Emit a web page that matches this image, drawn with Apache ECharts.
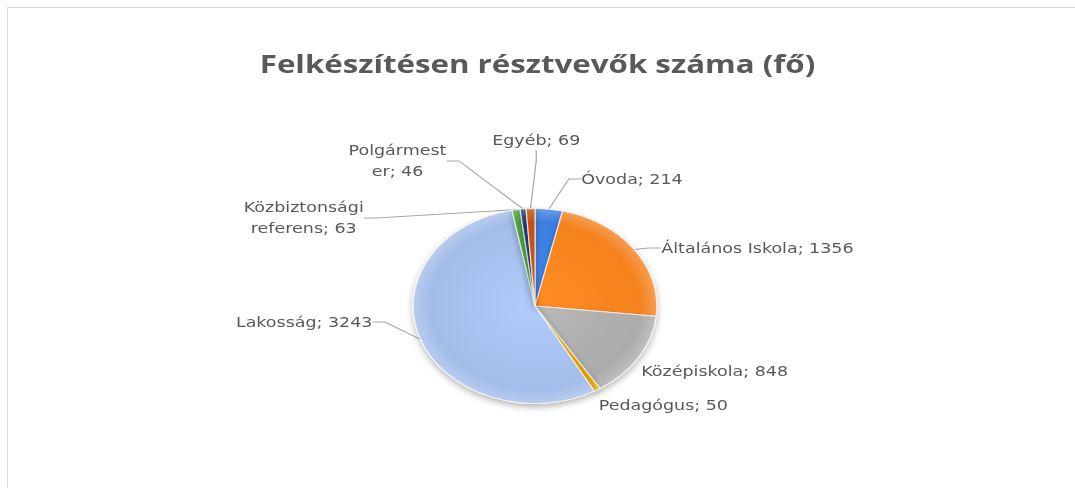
<!DOCTYPE html>
<html>
<head>
<meta charset="utf-8">
<script src="https://cdn.jsdelivr.net/npm/echarts@6/dist/echarts.min.js"></script>
<style>
    html, body { margin: 0; padding: 0; background: #fff; overflow: hidden; }
    .frame {
        position: absolute;
        left: 7px;
        top: 7px;
        right: 0;
        bottom: 0;
        border-top: 1px solid #d9d9d9;
        border-left: 1px solid #d9d9d9;
    }
    /* az eredeti kép vízszintesen nyújtott, ezért a diagramot is széthúzzuk */
    #pieChart {
        position: absolute;
        left: 0;
        top: 0;
        width: 860px;
        height: 488px;
        transform: scaleX(1.25);
        transform-origin: 0 0;
    }
</style>
</head>
<body>
<div class="frame"></div>
<div id="pieChart"></div>
<script>
// adatok
var categories = ['Óvoda', 'Általános Iskola', 'Középiskola', 'Pedagógus', 'Lakosság', 'Közbiztonsági referens', 'Polgármester', 'Egyéb']
var labelNames = ['Óvoda', 'Általános Iskola', 'Középiskola', 'Pedagógus', 'Lakosság', 'Közbiztonsági\nreferens', 'Polgármest\ner', 'Egyéb']
var values = [214, 1356, 848, 50, 3243, 63, 46, 69]
var colors = ['#3d7fe0', '#f5821f', '#ababab', '#e6a400', '#a3bdea', '#4ea83a', '#1f3f80', '#c4500e']

// címkék helye (x, y, igazítás) - nyújtás előtti koordináták
var labelPos = [
    [465, 179, 'left'],
    [529, 248, 'left'],
    [513, 371, 'left'],
    [479, 405, 'left'],
    [298, 322, 'right'],
    [243, 218, 'center'],
    [318, 161, 'center'],
    [429, 140, 'center']
]
var showLine = [true, true, false, false, true, true, true, true]

var chart = echarts.init(document.getElementById('pieChart'), null, { renderer: 'svg' })

var seriesData = categories.map(function (name, i) {
    return {
        name: name,
        value: values[i],
        labelLine: { show: showLine[i] },
        itemStyle: {
            color: {
                type: 'radial', x: 428, y: 306, r: 99, global: true,
                colorStops: [
                    { offset: 0, color: echarts.color.lift(colors[i], -0.08) },
                    { offset: 0.85, color: colors[i] },
                    { offset: 1, color: echarts.color.lift(colors[i], 0.25) }
                ]
            }
        }
    }
})

chart.setOption({
    animation: false,
    title: {
        text: 'Felkészítésen résztvevők száma (fő)',
        left: 'center',
        top: 46,
        textStyle: {
            fontFamily: 'Open Sans',
            fontSize: 25,
            fontWeight: 'bold',
            color: '#595959'
        }
    },
    series: [{
        type: 'pie',
        center: [428, 306],
        radius: 97.5,
        startAngle: 90,
        clockwise: true,
        avoidLabelOverlap: false,
        itemStyle: {
            borderColor: 'rgba(255,255,255,0.7)',
            borderWidth: 1,
            shadowBlur: 6,
            shadowOffsetY: 3,
            shadowColor: 'rgba(0,0,0,0.3)'
        },
        label: {
            show: true,
            position: 'outside',
            fontFamily: 'DejaVu Sans',
            fontSize: 14,
            lineHeight: 21,
            color: '#595959',
            formatter: function (p) {
                return labelNames[p.dataIndex] + '; ' + p.value
            }
        },
        labelLine: {
            show: true,
            length: 10,
            length2: 10,
            lineStyle: { color: '#a6a6a6', width: 1 }
        },
        labelLayout: function (params) {
            var p = labelPos[params.dataIndex]
            return {
                x: p[0],
                y: p[1],
                align: p[2],
                verticalAlign: 'middle'
            }
        },
        data: seriesData
    }]
})
</script>
</body>
</html>
